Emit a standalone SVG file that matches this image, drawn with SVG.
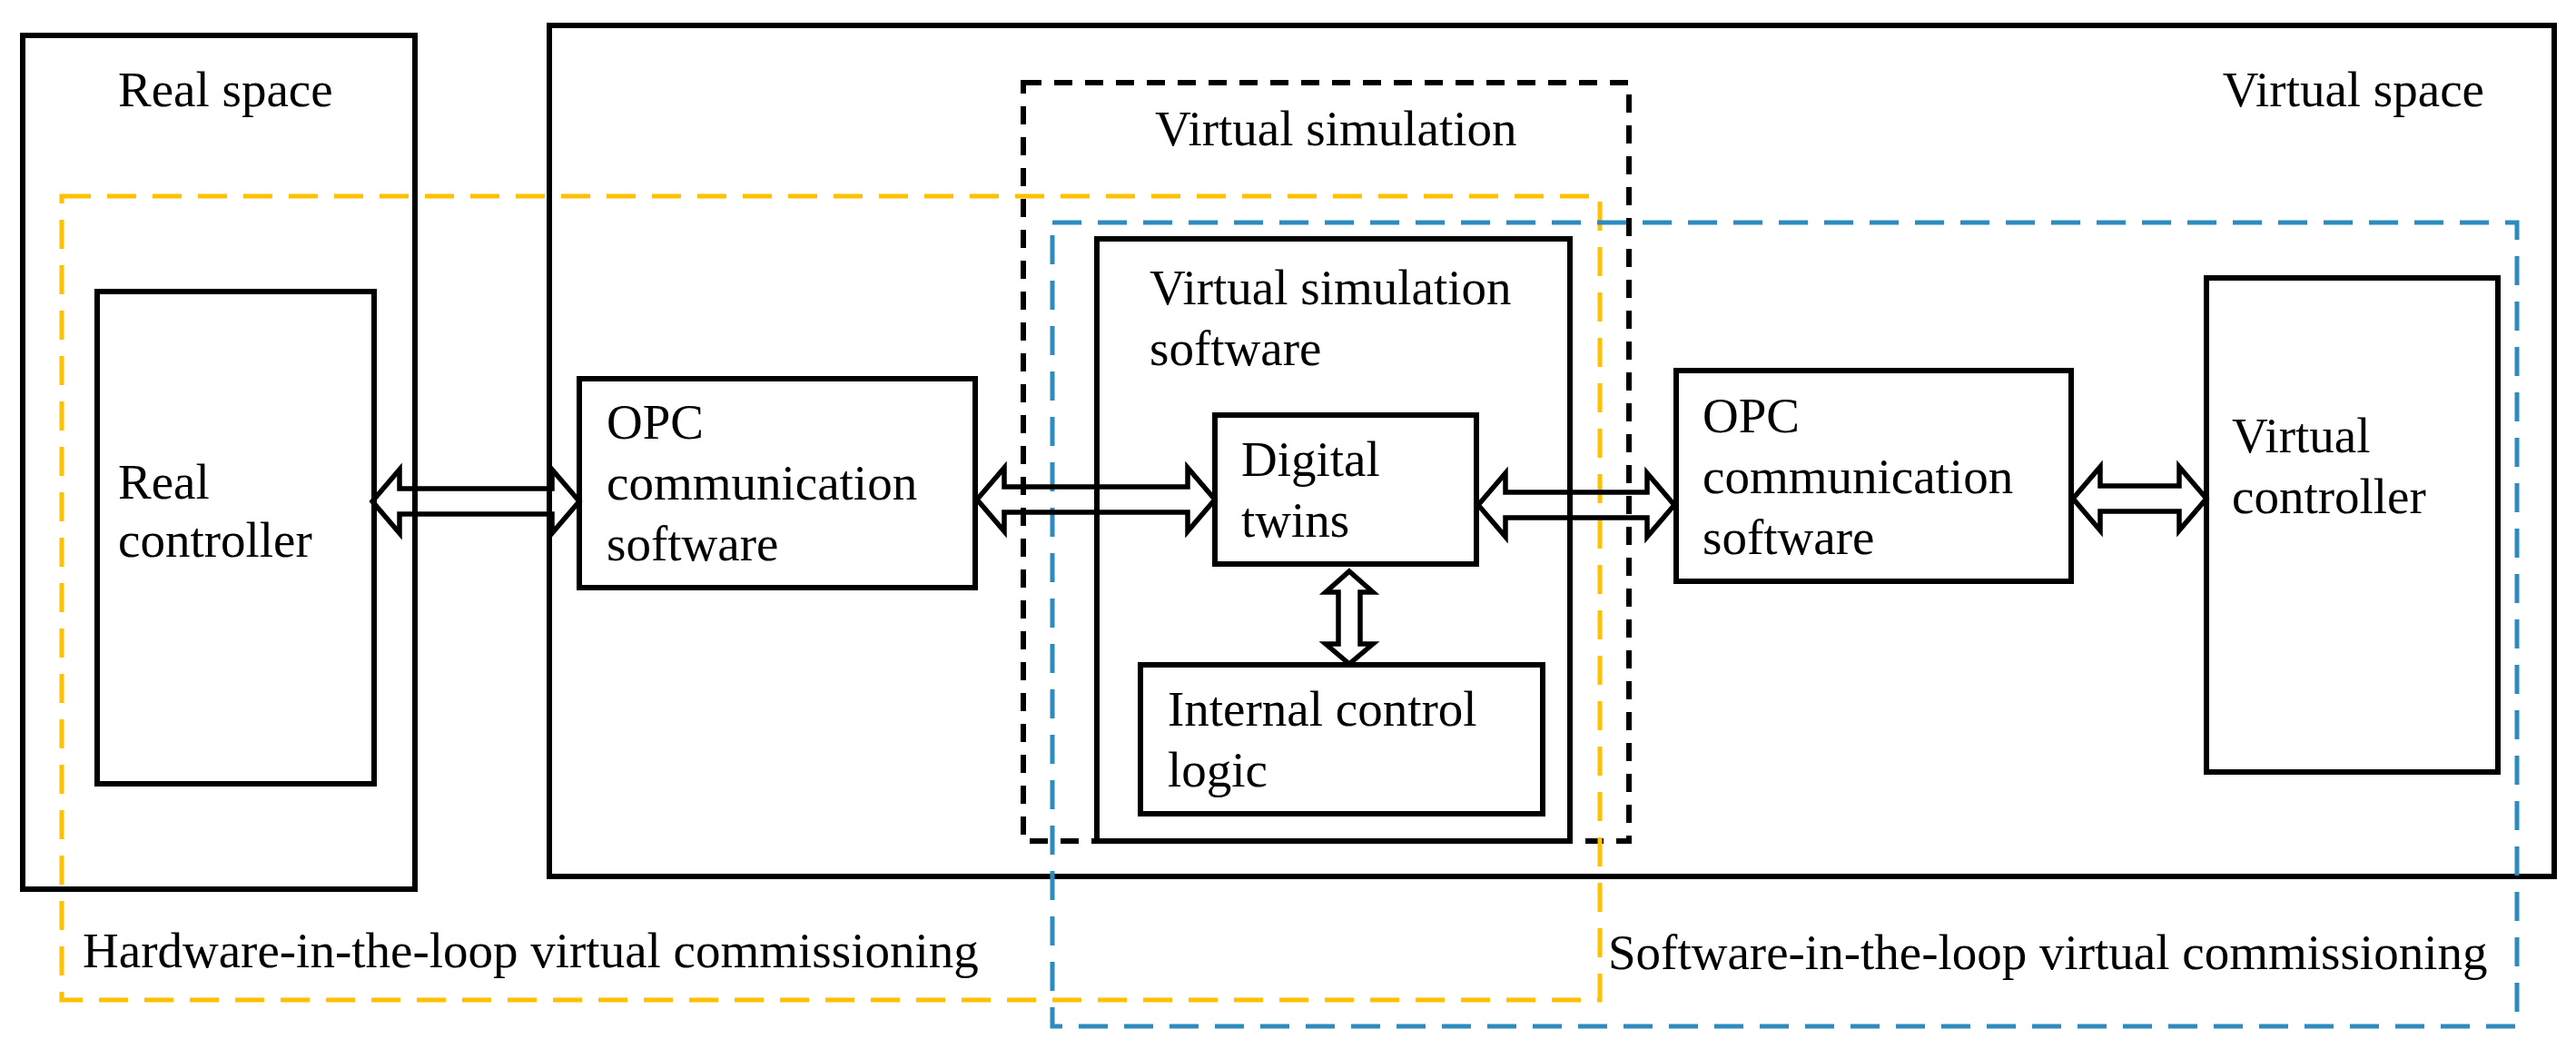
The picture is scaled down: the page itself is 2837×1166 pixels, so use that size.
<svg xmlns="http://www.w3.org/2000/svg" width="2837" height="1166" viewBox="0 0 2837 1166">
<style>
.box{fill:none;stroke:#000;stroke-width:6}
.arr{fill:none;stroke:#000;stroke-width:5.5;stroke-linejoin:miter}
text{font-family:"Liberation Serif","Times New Roman",serif;font-size:55px;fill:#000}
</style>
<rect width="2837" height="1166" fill="#fff"/>
<g id="real-space"><rect class="box" x="25" y="39" width="432" height="940"/><text x="130" y="117">Real space</text></g>
<g id="virtual-space"><rect class="box" x="605" y="28" width="2208" height="937"/><text x="2736" y="117" text-anchor="end">Virtual space</text></g>
<g id="virtual-simulation"><rect x="1127" y="91" width="667" height="835" fill="none" stroke="#000" stroke-width="6" stroke-dasharray="20 14"/><text x="1272" y="160">Virtual simulation</text></g>
<g id="hil"><rect x="68" y="216" width="1694" height="885" fill="none" stroke="#FFC000" stroke-width="5" stroke-dasharray="32 18"/><text x="91" y="1065">Hardware-in-the-loop virtual commissioning</text></g>
<g id="sil"><rect x="1159" y="245" width="1613" height="885" fill="none" stroke="#2E8BC0" stroke-width="5" stroke-dasharray="32 18"/><text x="1771" y="1067">Software-in-the-loop virtual commissioning</text></g>
<g id="real-controller"><rect class="box" x="107" y="321" width="305" height="542"/><text x="130" y="549">Real</text><text x="130" y="613">controller</text></g>
<g id="opc-left"><rect class="box" x="638" y="417" width="436" height="230"/><text x="668" y="483">OPC</text><text x="668" y="550">communication</text><text x="668" y="617">software</text></g>
<g id="vss"><rect class="box" x="1208" y="263" width="521" height="663"/><text x="1266" y="335">Virtual simulation</text><text x="1266" y="402">software</text></g>
<g id="digital-twins"><rect class="box" x="1338" y="457" width="288" height="164"/><text x="1367" y="524">Digital</text><text x="1367" y="591">twins</text></g>
<g id="internal-logic"><rect class="box" x="1256" y="732" width="443" height="164"/><text x="1286" y="799">Internal control</text><text x="1286" y="866">logic</text></g>
<g id="opc-right"><rect class="box" x="1846" y="408" width="435" height="232"/><text x="1875" y="476">OPC</text><text x="1875" y="543">communication</text><text x="1875" y="610">software</text></g>
<g id="virtual-controller"><rect class="box" x="2430" y="306" width="321" height="544"/><text x="2458" y="498">Virtual</text><text x="2458" y="565">controller</text></g>
<g id="connectors">
<polygon class="arr" points="410,552 440,517 440,538 608,538 608,517 638,552 608,587 608,566 440,566 440,587"/>
<polygon class="arr" points="1076,550 1106,515 1106,536 1308,536 1308,515 1338,550 1308,585 1308,564 1106,564 1106,585"/>
<polygon class="arr" points="1628,556 1658,521 1658,542 1814,542 1814,521 1844,556 1814,591 1814,570 1658,570 1658,591"/>
<polygon class="arr" points="2283,549 2313,514 2313,535 2400,535 2400,514 2430,549 2400,584 2400,563 2313,563 2313,584"/>
<polygon class="arr" points="1486,629 1512,652 1498,652 1498,709 1512,709 1486,731 1460,709 1474,709 1474,652 1460,652"/>
</g>
</svg>
